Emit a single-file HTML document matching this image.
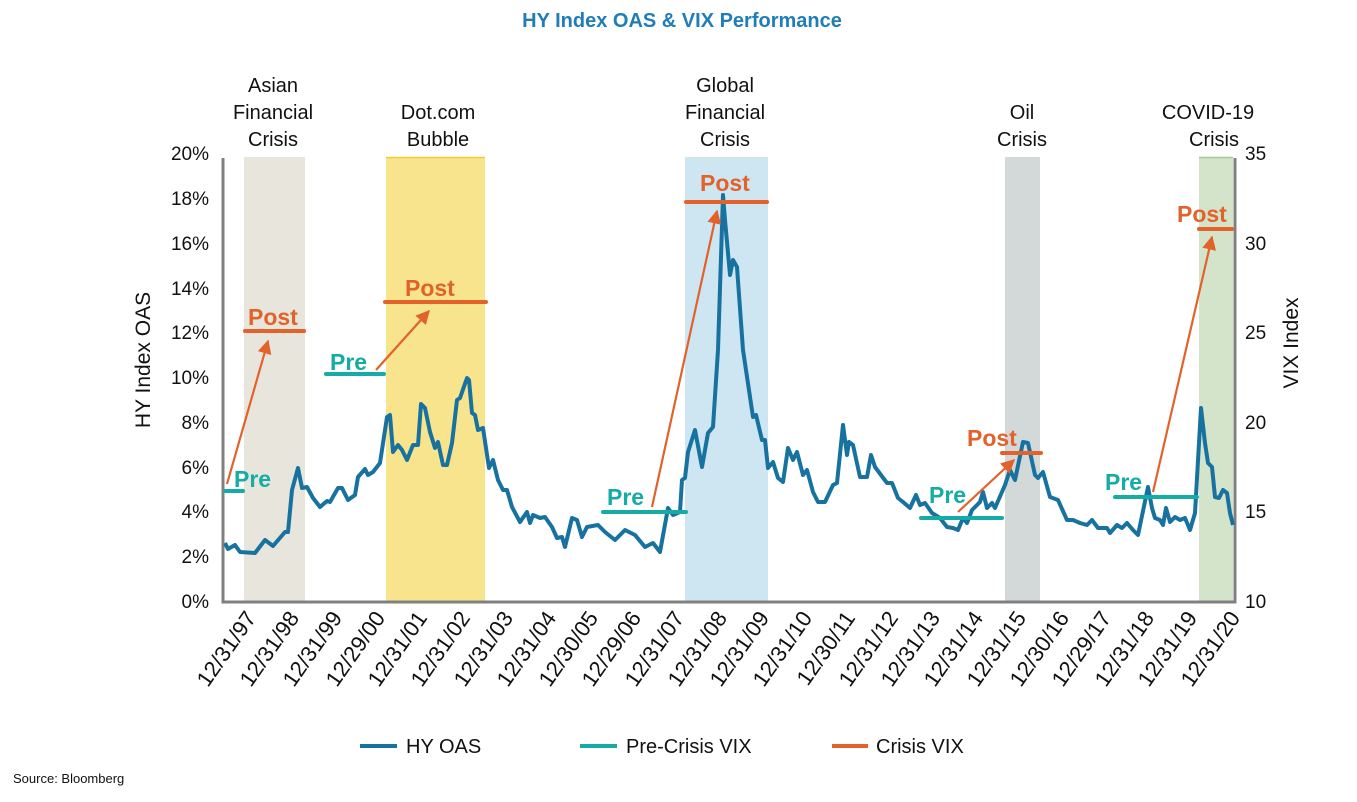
<!DOCTYPE html>
<html><head><meta charset="utf-8"><style>
html,body{margin:0;padding:0;background:#fff}
svg{display:block}
text{font-family:"Liberation Sans",sans-serif}
</style></head><body>
<svg width="1357" height="802" viewBox="0 0 1357 802" xmlns="http://www.w3.org/2000/svg">
<text x="682" y="27" text-anchor="middle" font-size="20" font-weight="bold" fill="#1f7db8">HY Index OAS &amp; VIX Performance</text>
<rect x="244" y="157" width="61" height="444" fill="#e8e6dc"/>
<rect x="386" y="157" width="99" height="444" fill="#f9e48e"/>
<line x1="386" y1="157.5" x2="485" y2="157.5" stroke="#f3cc3a" stroke-width="1.5"/>
<rect x="685" y="157" width="83" height="444" fill="#cde6f2"/>
<rect x="1005" y="157" width="35" height="444" fill="#d3d8d8"/>
<rect x="1199" y="157" width="34" height="444" fill="#d3e4cb"/>
<line x1="1199" y1="157.5" x2="1233" y2="157.5" stroke="#9fcf8c" stroke-width="1.5"/>
<g font-size="20" fill="#111" text-anchor="middle">
<text x="273" y="92">Asian</text><text x="273" y="119">Financial</text><text x="273" y="146">Crisis</text>
<text x="438" y="119">Dot.com</text><text x="438" y="146">Bubble</text>
<text x="725" y="92">Global</text><text x="725" y="119">Financial</text><text x="725" y="146">Crisis</text>
<text x="1022" y="119">Oil</text><text x="1022" y="146">Crisis</text>
<text x="1208" y="119">COVID-19</text><text x="1214" y="146">Crisis</text>
</g>
<polyline points="223,158 223,602 1235,602 1235,158" fill="none" stroke="#808080" stroke-width="3"/>
<g font-size="19" fill="#111" text-anchor="end">
<text x="209" y="160">20%</text><text x="209" y="205">18%</text><text x="209" y="250">16%</text>
<text x="209" y="295">14%</text><text x="209" y="339">12%</text><text x="209" y="384">10%</text>
<text x="209" y="429">8%</text><text x="209" y="474">6%</text><text x="209" y="518">4%</text>
<text x="209" y="563">2%</text><text x="209" y="608">0%</text>
</g>
<g font-size="19" fill="#111">
<text x="1245" y="160">35</text><text x="1245" y="250">30</text><text x="1245" y="339">25</text>
<text x="1245" y="429">20</text><text x="1245" y="518">15</text><text x="1245" y="608">10</text>
</g>
<text transform="translate(150,360) rotate(-90)" font-size="21" text-anchor="middle" fill="#111">HY Index OAS</text>
<text transform="translate(1298,343) rotate(-90)" font-size="21" text-anchor="middle" fill="#111">VIX Index</text>
<g font-size="22" fill="#111" text-anchor="end">
<text transform="translate(257,618) rotate(-55)">12/31/97</text>
<text transform="translate(300,618) rotate(-55)">12/31/98</text>
<text transform="translate(343,618) rotate(-55)">12/31/99</text>
<text transform="translate(386,618) rotate(-55)">12/29/00</text>
<text transform="translate(428,618) rotate(-55)">12/31/01</text>
<text transform="translate(471,618) rotate(-55)">12/31/02</text>
<text transform="translate(514,618) rotate(-55)">12/31/03</text>
<text transform="translate(557,618) rotate(-55)">12/31/04</text>
<text transform="translate(599,618) rotate(-55)">12/30/05</text>
<text transform="translate(642,618) rotate(-55)">12/29/06</text>
<text transform="translate(685,618) rotate(-55)">12/31/07</text>
<text transform="translate(728,618) rotate(-55)">12/31/08</text>
<text transform="translate(770,618) rotate(-55)">12/31/09</text>
<text transform="translate(813,618) rotate(-55)">12/31/10</text>
<text transform="translate(856,618) rotate(-55)">12/30/11</text>
<text transform="translate(899,618) rotate(-55)">12/31/12</text>
<text transform="translate(941,618) rotate(-55)">12/31/13</text>
<text transform="translate(984,618) rotate(-55)">12/31/14</text>
<text transform="translate(1027,618) rotate(-55)">12/31/15</text>
<text transform="translate(1070,618) rotate(-55)">12/30/16</text>
<text transform="translate(1112,618) rotate(-55)">12/29/17</text>
<text transform="translate(1155,618) rotate(-55)">12/31/18</text>
<text transform="translate(1198,618) rotate(-55)">12/31/19</text>
<text transform="translate(1241,618) rotate(-55)">12/31/20</text>
</g>
<polyline fill="none" stroke="#1772a0" stroke-width="4" stroke-linejoin="round" points="225,543 228,549 235,545 240,552 255,553 265,540 273,546 285,532 288,532 292,490 298,468 302,488 307,487 313,498 320,507 327,501 330,502 338,488 342,488 348,500 355,495 358,477 365,469 368,475 373,472 380,463 387,417 390,415 393,452 398,445 402,450 407,460 413,445 418,445 421,404 425,408 430,432 435,448 438,442 443,465 447,465 452,443 457,400 460,398 467,378 469,380 472,413 475,415 478,430 483,428 489,468 493,460 498,480 503,490 507,490 512,507 520,522 527,512 530,523 533,515 540,518 545,517 552,527 557,538 562,537 565,547 572,518 577,520 582,537 587,527 598,525 605,532 615,540 625,530 635,535 645,547 653,543 660,552 668,508 673,515 680,512 682,480 685,478 688,452 695,430 702,467 708,433 713,427 718,350 723,195 725,220 730,275 733,260 737,267 743,350 753,417 756,415 762,440 765,440 768,468 773,462 778,478 783,482 788,448 793,460 797,452 803,475 807,470 813,492 818,502 825,502 833,485 837,483 843,425 847,455 849,442 853,445 860,477 867,477 871,455 875,467 887,483 892,483 898,498 903,502 910,508 916,495 920,505 925,503 932,513 940,518 947,527 953,528 958,530 963,518 967,523 972,510 980,502 983,492 987,508 992,503 995,508 1005,485 1010,470 1015,480 1023,442 1028,443 1035,475 1038,478 1043,472 1050,497 1058,500 1067,520 1073,520 1080,523 1087,525 1092,520 1098,528 1107,528 1110,533 1117,525 1122,528 1127,523 1133,530 1138,535 1148,487 1152,508 1155,518 1160,520 1163,525 1166,508 1170,522 1175,517 1180,520 1185,518 1190,530 1195,513 1201,408 1205,443 1208,463 1212,467 1215,497 1219,498 1223,490 1227,493 1230,513 1233,525"/>
<g stroke-width="4" stroke-linecap="round">
<line x1="225" y1="491" x2="243" y2="491" stroke="#14aca4"/>
<line x1="245" y1="331" x2="304" y2="331" stroke="#e2622a"/>
<line x1="326" y1="374" x2="384" y2="374" stroke="#14aca4"/>
<line x1="385" y1="302" x2="486" y2="302" stroke="#e2622a"/>
<line x1="603" y1="512" x2="686" y2="512" stroke="#14aca4"/>
<line x1="686" y1="202" x2="767" y2="202" stroke="#e2622a"/>
<line x1="921" y1="518" x2="1002" y2="518" stroke="#14aca4"/>
<line x1="1002" y1="453" x2="1041" y2="453" stroke="#e2622a"/>
<line x1="1115" y1="497" x2="1197" y2="497" stroke="#14aca4"/>
<line x1="1199" y1="229" x2="1232" y2="229" stroke="#e2622a"/>
</g>
<defs><marker id="a2" viewBox="0 0 10 10" markerWidth="14" markerHeight="14" refX="9" refY="5" orient="auto" markerUnits="userSpaceOnUse"><path d="M0,0 L10,5 L0,10 Z" fill="#e2622a"/></marker></defs>
<g stroke="#e2622a" stroke-width="2.2" marker-end="url(#a2)">
<line x1="227" y1="484" x2="268" y2="341"/>
<line x1="376" y1="370" x2="429" y2="311"/>
<line x1="652" y1="507" x2="717" y2="211"/>
<line x1="958" y1="512" x2="1014" y2="460"/>
<line x1="1153" y1="492" x2="1212" y2="237"/>
</g>
<g font-size="23" font-weight="bold">
<text x="234" y="487" fill="#14aca4">Pre</text>
<text x="248" y="325" fill="#e2622a">Post</text>
<text x="330" y="370" fill="#14aca4">Pre</text>
<text x="405" y="296" fill="#e2622a">Post</text>
<text x="607" y="505" fill="#14aca4">Pre</text>
<text x="700" y="191" fill="#e2622a">Post</text>
<text x="929" y="503" fill="#14aca4">Pre</text>
<text x="967" y="446" fill="#e2622a">Post</text>
<text x="1105" y="490" fill="#14aca4">Pre</text>
<text x="1177" y="222" fill="#e2622a">Post</text>
</g>
<g stroke-width="4">
<line x1="360" y1="746" x2="397" y2="746" stroke="#1772a0"/>
<line x1="580" y1="746" x2="617" y2="746" stroke="#14aca4"/>
<line x1="832" y1="746" x2="868" y2="746" stroke="#e2622a"/>
</g>
<g font-size="20" fill="#111">
<text x="406" y="753">HY OAS</text>
<text x="626" y="753">Pre-Crisis VIX</text>
<text x="876" y="753">Crisis VIX</text>
</g>
<text x="13" y="783" font-size="13" fill="#111">Source: Bloomberg</text>
</svg>
</body></html>
